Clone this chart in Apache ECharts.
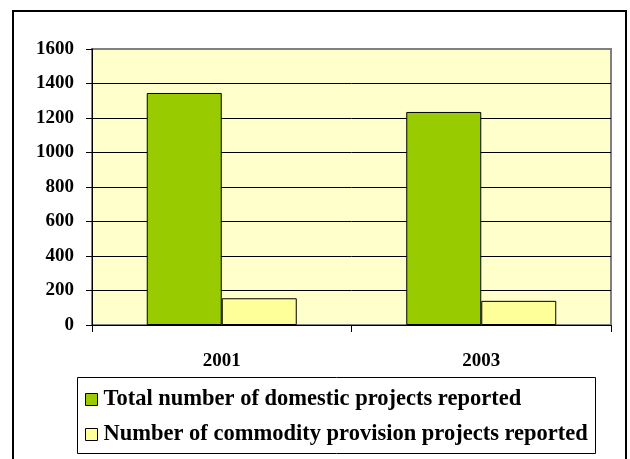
<!DOCTYPE html>
<html>
<head>
<meta charset="utf-8">
<script src="https://cdn.jsdelivr.net/npm/echarts@6/dist/echarts.min.js"></script>
<style>
  html, body { margin: 0; padding: 0; background: #fff; }
  #chart { width: 630px; height: 459px; }
</style>
</head>
<body>
<div id="chart"></div>
<script>
// Survey years on the category axis
const years = ['2001', '2003'];

// Reported project counts per year
const domesticProjects = [1345, 1235];
const commodityProjects = [155, 140];

// Value axis ticks
const yMin = 0;
const yMax = 1600;
const yStep = 200;

const seriesNames = [
  'Total number of domestic projects reported',
  'Number of commodity provision projects reported'
];

const FONT = '"Liberation Serif", "DejaVu Serif", serif';

const chart = echarts.init(document.getElementById('chart'), null, { renderer: 'canvas' });

const gridLineColors = [];
for (let v = yMin; v <= yMax; v += yStep) {
  gridLineColors.push(v === yMax ? '#808080' : '#000000');
}

chart.setOption({
  animation: false,
  backgroundColor: '#ffffff',
  textStyle: { fontFamily: FONT },
  grid: {
    left: 92, right: 19, top: 49, bottom: 134,
    show: true,
    backgroundColor: '#FFFFCC',
    borderColor: '#808080',
    borderWidth: 2
  },
  graphic: [
    {
      type: 'rect',
      shape: { x: 13, y: 11, width: 613, height: 470 },
      style: { fill: 'none', stroke: '#000', lineWidth: 2 },
      silent: true
    },
    {
      type: 'rect',
      shape: { x: 77.5, y: 377.5, width: 518, height: 76 },
      style: { fill: '#fff', stroke: '#000', lineWidth: 1 },
      silent: true,
      z: -1
    }
  ],
  legend: {
    data: seriesNames,
    orient: 'vertical',
    left: 80,
    top: 383,
    icon: 'rect',
    itemWidth: 12,
    itemHeight: 12,
    itemGap: 12,
    itemStyle: { borderColor: '#000', borderWidth: 1 },
    textStyle: { fontFamily: FONT, fontWeight: 'bold', fontSize: 22.5, color: '#000', padding: [0, 0, 0, 1] }
  },
  xAxis: {
    type: 'category',
    data: years,
    axisLine: { lineStyle: { color: '#000', width: 1 } },
    axisTick: { show: true, length: 7, lineStyle: { color: '#000' } },
    axisLabel: { margin: 27, fontFamily: FONT, fontWeight: 'bold', fontSize: 19, color: '#000' },
    splitLine: { show: false }
  },
  yAxis: {
    type: 'value',
    min: yMin,
    max: yMax,
    interval: yStep,
    axisLine: { show: true, lineStyle: { color: '#000', width: 1 } },
    axisTick: { show: true, length: 6, lineStyle: { color: '#000' } },
    axisLabel: {
      margin: 18, fontFamily: FONT, fontWeight: 'bold', fontSize: 19, color: '#000',
      formatter: (v) => String(v)
    },
    splitLine: { show: true, lineStyle: { color: gridLineColors, width: 1 } }
  },
  series: [
    {
      name: seriesNames[0],
      type: 'bar',
      data: domesticProjects,
      barWidth: 75,
      barGap: '0%',
      itemStyle: { color: '#99CC00', borderColor: '#000', borderWidth: 1 }
    },
    {
      name: seriesNames[1],
      type: 'bar',
      data: commodityProjects,
      barWidth: 75,
      barGap: '0%',
      itemStyle: { color: '#FFFF99', borderColor: '#000', borderWidth: 1 }
    }
  ]
});
</script>
</body>
</html>
